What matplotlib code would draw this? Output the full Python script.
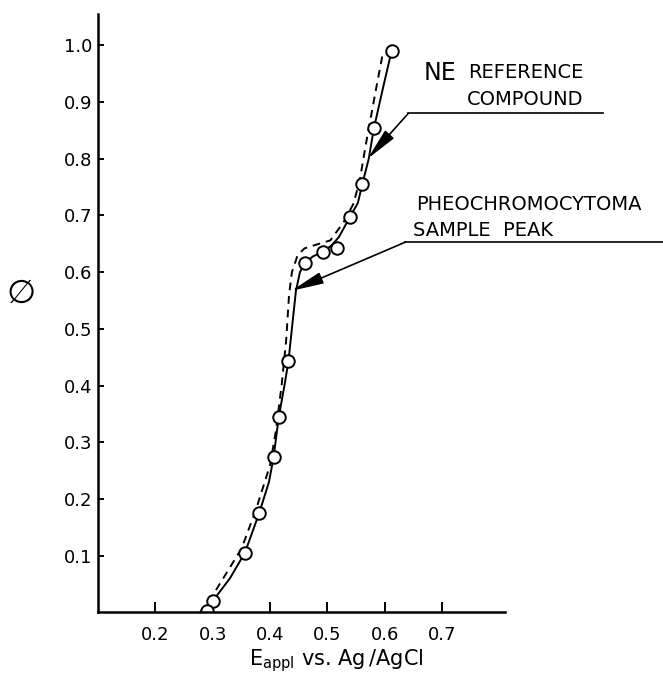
import numpy as np
import matplotlib
matplotlib.use('Agg')
import matplotlib.pyplot as plt

# measured points (circles) on the solid curve
pts_x = [0.300, 0.356, 0.381, 0.406, 0.415, 0.432, 0.461, 0.493, 0.516, 0.539, 0.561, 0.581, 0.612]
pts_y = [0.020, 0.105, 0.175, 0.273, 0.344, 0.443, 0.617, 0.636, 0.642, 0.697, 0.756, 0.854, 0.991]

# solid curve (NE reference compound), traced
solid_x = [0.287, 0.300, 0.330, 0.356, 0.381, 0.398, 0.406, 0.415, 0.425, 0.432,
           0.440, 0.445, 0.452, 0.461, 0.475, 0.493, 0.508, 0.520, 0.539, 0.553,
           0.561, 0.572, 0.581, 0.598, 0.612]
solid_y = [0.000, 0.020, 0.060, 0.105, 0.175, 0.230, 0.273, 0.344, 0.400, 0.443,
           0.520, 0.567, 0.600, 0.617, 0.628, 0.636, 0.648, 0.662, 0.697, 0.722,
           0.756, 0.800, 0.854, 0.930, 0.991]

# dashed curve (pheochromocytoma sample peak), traced
dash_x = [0.278, 0.300, 0.350, 0.375, 0.400, 0.410, 0.420, 0.428, 0.433, 0.438,
          0.448, 0.460, 0.479, 0.505, 0.528, 0.545, 0.556, 0.566, 0.575, 0.586, 0.596]
dash_y = [0.000, 0.030, 0.112, 0.180, 0.260, 0.320, 0.400, 0.480, 0.560, 0.600,
          0.630, 0.642, 0.648, 0.656, 0.688, 0.720, 0.760, 0.820, 0.870, 0.930, 0.983]

xticks = [0.2, 0.3, 0.4, 0.5, 0.6, 0.7]
yticks = [0.1, 0.2, 0.3, 0.4, 0.5, 0.6, 0.7, 0.8, 0.9, 1.0]

fig = plt.figure(figsize=(6.63, 6.78), dpi=100)
ax = fig.add_axes([0.148, 0.097, 0.614, 0.882])

ax.plot(solid_x, solid_y, color='black', lw=1.4)
ax.plot(dash_x, dash_y, color='black', lw=1.4, linestyle=(0, (4, 3)))
ax.plot(pts_x, pts_y, 'o', ms=9, mfc='white', mec='black', mew=1.4)
ax.plot([0.29], [0.003], 'o', ms=9, mfc='white', mec='black', mew=1.4)

ax.set_xlim(0.1, 0.81)
ax.set_ylim(0, 1.055)
for s in ['top', 'right']:
    ax.spines[s].set_visible(False)
for s in ['left', 'bottom']:
    ax.spines[s].set_linewidth(1.8)

ax.set_xticks(xticks)
ax.set_xticklabels(['%.1f' % v for v in xticks])
ax.set_yticks(yticks)
ax.set_yticklabels(['%.1f' % v for v in yticks])
ax.tick_params(axis='x', direction='in', length=7, width=1.4, labelsize=13, pad=10)
ax.tick_params(axis='y', direction='in', length=4, width=1.4, labelsize=13, pad=4)

# leader lines with arrows
ne_tip, ne_corner, ne_end = (0.570, 0.800), (0.641, 0.880), 0.98
ph_tip, ph_corner, ph_end = (0.437, 0.567), (0.636, 0.653), 1.09
for tip, corner, end in [(ne_tip, ne_corner, ne_end), (ph_tip, ph_corner, ph_end)]:
    ax.plot([corner[0], end], [corner[1], corner[1]], color='black', lw=1.2, clip_on=False)
    ax.annotate('', xy=tip, xytext=corner,
                arrowprops=dict(arrowstyle='-|>,head_length=1.1,head_width=0.2',
                                color='black', lw=1.2, mutation_scale=18,
                                shrinkA=0, shrinkB=0))

ax.text(0.667, 0.952, 'NE', fontsize=17, va='center', ha='left', clip_on=False)
ax.text(0.746, 0.952, 'REFERENCE', fontsize=14, va='center', ha='left', clip_on=False)
ax.text(0.744, 0.905, 'COMPOUND', fontsize=14, va='center', ha='left', clip_on=False)
ax.text(0.655, 0.720, 'PHEOCHROMOCYTOMA', fontsize=14, va='center', ha='left', clip_on=False)
ax.text(0.650, 0.674, 'SAMPLE  PEAK', fontsize=14, va='center', ha='left', clip_on=False)

fig.text(0.032, 0.568, '\u2205', fontsize=24, ha='center', va='center')
fig.text(0.508, 0.026, r'E$_{\mathrm{appl}}$ vs. Ag$\,$/AgCl', fontsize=15,
         ha='center', va='center')

fig.savefig('out.png', dpi=100)
